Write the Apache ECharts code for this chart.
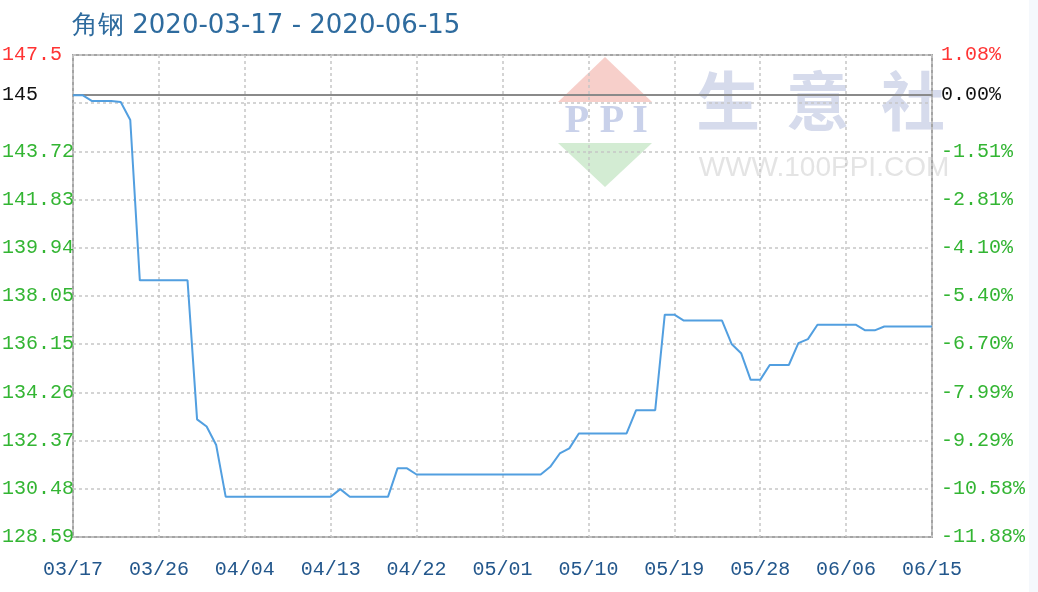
<!DOCTYPE html>
<html>
<head>
<meta charset="utf-8">
<script src="https://cdn.jsdelivr.net/npm/echarts/dist/echarts.min.js"></script>
<style>
html,body{margin:0;padding:0;background:#fff;}
#c{width:1038px;height:592px;}
</style>
</head>
<body>
<div id="c"></div>
<script>
// ---- data ----
const titleText = '角钢 2020-03-17 - 2020-06-15';

const dates = [
  '03/17','03/18','03/19','03/20','03/21','03/22','03/23','03/24','03/25','03/26',
  '03/27','03/28','03/29','03/30','03/31','04/01','04/02','04/03','04/04','04/05',
  '04/06','04/07','04/08','04/09','04/10','04/11','04/12','04/13','04/14','04/15',
  '04/16','04/17','04/18','04/19','04/20','04/21','04/22','04/23','04/24','04/25',
  '04/26','04/27','04/28','04/29','04/30','05/01','05/02','05/03','05/04','05/05',
  '05/06','05/07','05/08','05/09','05/10','05/11','05/12','05/13','05/14','05/15',
  '05/16','05/17','05/18','05/19','05/20','05/21','05/22','05/23','05/24','05/25',
  '05/26','05/27','05/28','05/29','05/30','05/31','06/01','06/02','06/03','06/04',
  '06/05','06/06','06/07','06/08','06/09','06/10','06/11','06/12','06/13','06/14',
  '06/15'
];

const prices = [
  145.00,145.00,144.77,144.77,144.77,144.73,144.03,137.78,137.78,137.78,
  137.78,137.78,137.78,132.36,132.08,131.36,129.34,129.34,129.34,129.34,
  129.34,129.34,129.34,129.34,129.34,129.34,129.34,129.34,129.64,129.34,
  129.34,129.34,129.34,129.34,130.45,130.45,130.21,130.21,130.21,130.21,
  130.21,130.21,130.21,130.21,130.21,130.21,130.21,130.21,130.21,130.21,
  130.51,131.03,131.23,131.81,131.81,131.81,131.81,131.81,131.81,132.72,
  132.72,132.72,136.44,136.44,136.21,136.21,136.21,136.21,136.21,135.30,
  134.94,133.90,133.90,134.48,134.48,134.48,135.33,135.49,136.05,136.05,
  136.05,136.05,136.05,135.83,135.83,135.98,135.98,135.98,135.98,135.98,
  135.98
];

const basePrice = 145;
const baseLeftLabel = '145';
const baseRightLabel = '0.00%';

const leftLabels = ['128.59','130.48','132.37','134.26','136.15','138.05','139.94','141.83','143.72','','147.5'];
const rightLabels = ['-11.88%','-10.58%','-9.29%','-7.99%','-6.70%','-5.40%','-4.10%','-2.81%','-1.51%','','1.08%'];

const pctMin = -11.88;
const pctMax = 1.08;
const pctStep = 1.296;

// ---- chart ----
const yMin = basePrice * (1 + pctMin / 100);
const yMax = basePrice * (1 + pctMax / 100);
const yStep = basePrice * pctStep / 100;
const tickIndex = v => Math.round((Number(v) - yMin) / yStep);
const lastTick = leftLabels.length - 1;

const monoFont = 'Liberation Mono';
const gridLine = { color: '#c6c6c6', type: [3, 3], width: 1.5 };

const chart = echarts.init(document.getElementById('c'), null, { renderer: 'canvas' });

const yAxisBase = {
  type: 'value',
  min: yMin,
  max: yMax,
  interval: yStep,
  axisLine: { show: false },
  axisTick: { show: false },
  axisLabel: {
    showMinLabel: true,
    showMaxLabel: true,
    fontFamily: monoFont,
    fontSize: 20,
    align: 'left',
    color: v => tickIndex(v) === lastTick ? '#ff3333' : '#33b533'
  }
};

chart.setOption({
  animation: false,
  backgroundColor: '#ffffff',
  title: {
    text: titleText,
    left: 72,
    top: 13,
    padding: 0,
    textStyle: { fontFamily: 'DejaVu Sans', fontSize: 26, fontWeight: 'normal', color: '#2e6b9e' }
  },
  graphic: [
    { type: 'rect', z: -5, shape: { x: 1029, y: 0, width: 9, height: 592 }, style: { fill: '#f5f8fc' } },
    { type: 'polygon', z: -5, shape: { points: [[605, 57], [558, 102], [652, 102]] }, style: { fill: '#f7cfca' } },
    { type: 'text', z: -5, x: 577, y: 122, style: { text: 'P', font: 'bold 40px "Liberation Serif"', fill: '#c9d1ea', textAlign: 'center', textVerticalAlign: 'middle' } },
    { type: 'text', z: -5, x: 612, y: 122, style: { text: 'P', font: 'bold 40px "Liberation Serif"', fill: '#c9d1ea', textAlign: 'center', textVerticalAlign: 'middle' } },
    { type: 'text', z: -5, x: 640, y: 122, style: { text: 'I', font: 'bold 40px "Liberation Serif"', fill: '#c9d1ea', textAlign: 'center', textVerticalAlign: 'middle' } },
    { type: 'polygon', z: -5, shape: { points: [[558, 143], [652, 143], [605, 187]] }, style: { fill: '#d3ecd3' } },
    { type: 'text', z: -5, x: 728, y: 101, style: { text: '生', font: 'bold 64px "Noto Sans CJK SC"', fill: '#d6dbec', textAlign: 'center', textVerticalAlign: 'middle' } },
    { type: 'text', z: -5, x: 818, y: 101, style: { text: '意', font: 'bold 64px "Noto Sans CJK SC"', fill: '#d6dbec', textAlign: 'center', textVerticalAlign: 'middle' } },
    { type: 'text', z: -5, x: 913, y: 101, style: { text: '社', font: 'bold 64px "Noto Sans CJK SC"', fill: '#d6dbec', textAlign: 'center', textVerticalAlign: 'middle' } },
    { type: 'text', z: -5, x: 824, y: 168, style: { text: 'WWW.100PPI.COM', font: '28px "Liberation Sans"', fill: '#e4e4e4', textAlign: 'center', textVerticalAlign: 'middle' } }
  ],
  grid: {
    left: 73, right: 106, top: 55, bottom: 55,
    show: true, borderColor: '#a4a4a4', borderWidth: 2,
    outerBoundsMode: 'none', containLabel: false
  },
  xAxis: {
    type: 'category',
    data: dates,
    boundaryGap: false,
    axisLine: { show: false },
    axisTick: { show: false },
    axisLabel: { interval: 8, color: '#23578c', fontFamily: monoFont, fontSize: 20, margin: 23, showMinLabel: true, showMaxLabel: true },
    splitLine: { show: true, interval: 8, lineStyle: gridLine }
  },
  yAxis: [
    Object.assign({}, yAxisBase, {
      position: 'left',
      splitLine: { show: true, lineStyle: gridLine },
      axisLabel: Object.assign({}, yAxisBase.axisLabel, { margin: 71, formatter: v => leftLabels[tickIndex(v)] || '' })
    }),
    Object.assign({}, yAxisBase, {
      position: 'right',
      splitLine: { show: false },
      axisLabel: Object.assign({}, yAxisBase.axisLabel, { margin: 9, formatter: v => rightLabels[tickIndex(v)] || '' })
    })
  ],
  series: [{
    type: 'line',
    data: prices,
    yAxisIndex: 0,
    symbol: 'none',
    z: 5,
    lineStyle: { color: '#529fe0', width: 2 },
    markLine: {
      silent: true,
      symbol: 'none',
      z: 3,
      lineStyle: { color: '#8a8a8a', width: 2, type: 'solid' },
      data: [
        { yAxis: basePrice, label: { show: true, position: 'start', distance: 71, align: 'left', formatter: baseLeftLabel, color: '#111', fontFamily: monoFont, fontSize: 20 } },
        { yAxis: basePrice, lineStyle: { color: 'rgba(0,0,0,0)' }, label: { show: true, position: 'end', distance: 9, formatter: baseRightLabel, color: '#111', fontFamily: monoFont, fontSize: 20 } }
      ]
    }
  }]
});
</script>
</body>
</html>
